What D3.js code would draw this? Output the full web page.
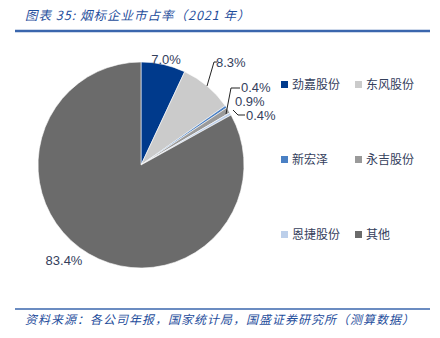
<!DOCTYPE html>
<html>
<head>
<meta charset="utf-8">
<script src="https://cdn.jsdelivr.net/npm/d3@7"></script>
<style>
body { margin: 0; background: #fff; }
svg { display: block; }
</style>
</head>
<body>
<div id="chart"></div>
<script>
const names = ["劲嘉股份", "东风股份", "新宏泽", "永吉股份", "恩捷股份", "其他"]
const shares = [7.0, 8.3, 0.4, 0.9, 0.4, 83.4]
const colors = ["#003a8c", "#cbcbcb", "#4a80c4", "#9a9a9a", "#bccfea", "#6b6b6b"]
const legendOrder = [0, 1, 2, 3, 4, 5]

const W = 440, H = 338
const cx = 141, cy = 165, r = 103
const labelColor = "#34405c"
const titleColor = "#1f4e9c"

const svg = d3.select("#chart").append("svg")
	.attr("width", W)
	.attr("height", H)

// title + rules
svg.append("text")
	.attr("x", 25)
	.attr("y", 20)
	.attr("fill", titleColor)
	.style("font-family", "'Noto Sans CJK SC'")
	.style("font-style", "italic")
	.style("font-size", "12.5px")
	.style("letter-spacing", "1px")
	.text("图表 35:  烟标企业市占率（2021 年）")

svg.append("line")
	.attr("x1", 15).attr("x2", 430)
	.attr("y1", 31).attr("y2", 31)
	.attr("stroke", "#3a66ad")
	.attr("stroke-width", 2.5)

svg.append("line")
	.attr("x1", 15).attr("x2", 430)
	.attr("y1", 309).attr("y2", 309)
	.attr("stroke", "#3a66ad")
	.attr("stroke-width", 1.5)

svg.append("text")
	.attr("x", 25)
	.attr("y", 324)
	.attr("fill", titleColor)
	.style("font-family", "'Noto Sans CJK SC'")
	.style("font-style", "italic")
	.style("font-size", "12px")
	.style("letter-spacing", "1px")
	.text("资料来源：各公司年报，国家统计局，国盛证券研究所（测算数据）")

// pie
const pie = d3.pie().sort(null).value(d => d)
const arcs = pie(shares)
const arc = d3.arc().innerRadius(0).outerRadius(r)

const g = svg.append("g").attr("transform", `translate(${cx},${cy})`)

g.selectAll("path")
	.data(arcs)
	.enter()
	.append("path")
	.attr("d", arc)
	.attr("fill", (d, i) => colors[i])
	.attr("stroke", "#fff")
	.attr("stroke-width", 0.6)

// label positions, leader lines for the small slices
const labelPos = [
	{x: 166, y: 64, anchor: "middle", line: null},
	{x: 216, y: 67, anchor: "start", line: [[207, 86], [214, 62], [217, 62]]},
	{x: 241, y: 92, anchor: "start", line: [[226, 114], [231, 88], [240, 88]]},
	{x: 235, y: 106, anchor: "start", line: null},
	{x: 246, y: 120, anchor: "start", line: [[233, 110], [238, 115], [245, 115]]},
	{x: 64, y: 265, anchor: "middle", line: null}
]

const pct = d3.format(".1f")

svg.selectAll(".leader")
	.data(labelPos.filter(d => d.line))
	.enter()
	.append("path")
	.attr("class", "leader")
	.attr("d", d => d3.line()(d.line))
	.attr("fill", "none")
	.attr("stroke", "#222")
	.attr("stroke-width", 1)

svg.selectAll(".pct")
	.data(arcs)
	.enter()
	.append("text")
	.attr("class", "pct")
	.attr("x", (d, i) => labelPos[i].x)
	.attr("y", (d, i) => labelPos[i].y)
	.attr("text-anchor", (d, i) => labelPos[i].anchor)
	.attr("fill", labelColor)
	.style("font-family", "'Liberation Sans', Arial, sans-serif")
	.style("font-size", "13px")
	.text(d => pct(d.data) + "%")

// legend
const legend = svg.append("g")
legendOrder.forEach(function(idx, k) {
	const col = k % 2, row = Math.floor(k / 2)
	const lx = 281 + col * 74
	const ly = 81 + row * 75
	legend.append("rect")
		.attr("x", lx)
		.attr("y", ly)
		.attr("width", 7)
		.attr("height", 7)
		.attr("fill", colors[idx])
	legend.append("text")
		.attr("x", lx + 11)
		.attr("y", ly + 7.5)
		.attr("fill", labelColor)
		.style("font-family", "'Noto Sans CJK SC'")
		.style("font-size", "12px")
		.text(names[idx])
})
</script>
</body>
</html>
